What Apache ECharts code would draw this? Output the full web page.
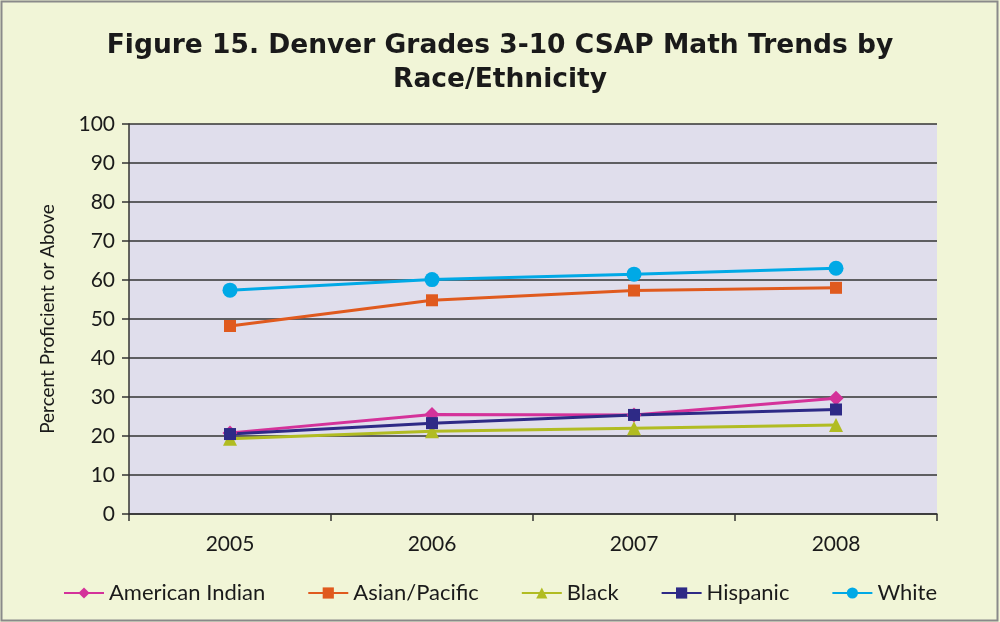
<!DOCTYPE html>
<html>
<head>
<meta charset="utf-8">
<script src="https://cdn.jsdelivr.net/npm/echarts@6/dist/echarts.min.js"></script>
<style>
  html, body { margin: 0; padding: 0; background: #f1f5d7; }
  #chart { width: 1000px; height: 622px; }
</style>
</head>
<body>
<div id="chart"></div>
<script>
// years on the x axis
var years = ['2005', '2006', '2007', '2008'];

// percent proficient or above
var americanIndian = [20.8, 25.5, 25.4, 29.7];
var asianPacific   = [48.2, 54.8, 57.3, 58.0];
var black          = [19.3, 21.2, 22.0, 22.8];
var hispanic       = [20.5, 23.3, 25.4, 26.8];
var white          = [57.4, 60.1, 61.5, 63.0];

var FONT = 'Lato';

function line(name, data, color, symbol, size) {
    return {
        name: name,
        type: 'line',
        data: data,
        symbol: symbol,
        symbolSize: size,
        itemStyle: { color: color },
        lineStyle: { color: color, width: 3 },
        emphasis: { disabled: true }
    };
}

var myChart = echarts.init(document.getElementById('chart'));
myChart.setOption({
    backgroundColor: '#f1f5d7',
    animation: false,
    title: {
        text: 'Figure 15. Denver Grades 3-10 CSAP Math Trends by\nRace/Ethnicity',
        left: 'center',
        top: 24,
        textStyle: { fontFamily: 'DejaVu Sans', fontWeight: 'bold', fontSize: 26.5, color: '#1a1a1a', lineHeight: 34 }
    },
    graphic: [{
        type: 'rect',
        shape: { x: 1.5, y: 1.5, width: 996, height: 619 },
        style: { fill: 'none', stroke: '#8a8a8a', lineWidth: 2 },
        silent: true
    }],
    legend: {
        bottom: 13,
        left: 58,
        itemGap: 42,
        itemWidth: 40,
        itemHeight: 14,
        textStyle: { fontFamily: FONT, fontSize: 22, color: '#1a1a1a' },
        data: ['American Indian', 'Asian/Pacific', 'Black', 'Hispanic', 'White']
    },
    grid: {
        left: 129, right: 63, top: 124, bottom: 108,
        show: true, backgroundColor: '#e0deec', borderWidth: 0
    },
    xAxis: {
        type: 'category',
        data: years,
        boundaryGap: true,
        axisLine: { lineStyle: { color: '#333', width: 1.5 } },
        axisTick: { show: true, length: 7, lineStyle: { color: '#333', width: 1.5 } },
        axisLabel: { fontFamily: FONT, fontSize: 21, color: '#1a1a1a', margin: 20 }
    },
    yAxis: {
        type: 'value',
        min: 0, max: 100, interval: 10,
        name: 'Percent Proficient or Above',
        nameLocation: 'middle',
        nameGap: 72,
        nameTextStyle: { fontFamily: FONT, fontSize: 19, color: '#1a1a1a' },
        axisLine: { show: true, lineStyle: { color: '#333', width: 1.5 } },
        axisTick: { show: true, length: 7, lineStyle: { color: '#333', width: 1.5 } },
        axisLabel: { fontFamily: FONT, fontSize: 21, color: '#1a1a1a', margin: 14 },
        splitLine: { lineStyle: { color: '#333', width: 1.5 } }
    },
    series: [
        line('American Indian', americanIndian, '#d4329a', 'diamond', 15),
        line('Asian/Pacific', asianPacific, '#e05a1e', 'rect', 12),
        line('Black', black, '#b1bc22', 'triangle', 14),
        line('Hispanic', hispanic, '#2e2a86', 'rect', 12),
        line('White', white, '#00a9e6', 'circle', 15)
    ]
});
</script>
</body>
</html>
